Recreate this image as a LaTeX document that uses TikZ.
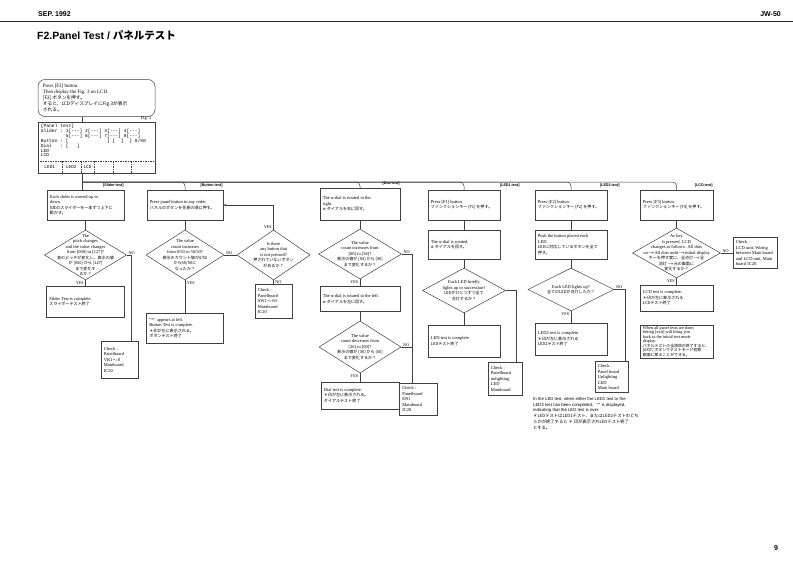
\documentclass[tikz,border=0pt]{standalone}
\usepackage{fontspec}
\setmainfont{Liberation Serif}
\setmonofont{Liberation Mono}
\newfontfamily\hv{Liberation Sans}
\newfontfamily\jp{Noto Sans CJK JP}
\usetikzlibrary{shapes.geometric,calc,arrows.meta}
\newcommand\fs{\fontsize{4.5}{5.5}\selectfont}
\newcommand\J[1]{{\jp\fontsize{4.05}{5.5}\selectfont #1}}
\newcommand\Jn[1]{{\jp\fontsize{4.3}{5.8}\selectfont #1}}
\newcommand\PB[5]{\node[bx,minimum width=#3pt,minimum height=#4pt] (#1) at (#2) {};\node[txt,anchor=west] (#1t) at ([xshift=3pt]#1.west) {#5};}
\newcommand\DM[5]{\node[dm,minimum width=#3pt,minimum height=#4pt] (#1) at (#2) {};\node[dtxt] (#1t) at (#1) {#5};}
\tikzset{
 bx/.style={draw=black!75, line width=0.5pt, inner sep=0pt, fill=white},
 txt/.style={font=\fs, align=left, inner sep=0pt},
 dm/.style={draw=black!75, line width=0.5pt, diamond, inner sep=0pt, fill=white},
 dtxt/.style={font=\fs, align=center, inner sep=0pt},
 ln/.style={draw=black!75, line width=0.5pt},
 lbl/.style={font=\fontsize{4.2}{4.5}\selectfont, inner sep=0.6pt},
 tag/.style={font=\hv\bfseries\fontsize{3.7}{4}\selectfont, inner sep=0.5pt},
 arr/.style={-{Stealth[length=3pt,width=2.4pt]}},
}
\begin{document}
\begin{tikzpicture}[x=1pt,y=-1pt]
\fill[white] (0,0) rectangle (793,560);
\useasboundingbox (0,0) rectangle (793,560);
% header
\node[anchor=west,font=\hv\bfseries\fontsize{7}{8}\selectfont,inner sep=0] (hdate) at (38,14.5) {SEP. 1992};
\node[anchor=east,font=\hv\bfseries\fontsize{7}{8}\selectfont,inner sep=0] (hjw) at (781,14.5) {JW-50};
\draw[line width=1.1pt,black!85] (0,21.5) -- (793,21.5);
\node[anchor=west,font=\hv\bfseries\fontsize{10.5}{12}\selectfont,inner sep=0] (title) at (37,35) {F2.Panel Test / {\jp\bfseries パネルテスト}};
\node[font=\hv\bfseries\fontsize{7}{8}\selectfont,inner sep=0] (pg) at (776,548) {9};
% start
\node[bx,rounded corners=7pt,minimum width=117pt,minimum height=37pt] (st) at (96.5,98) {};
\node[anchor=west,align=left,inner sep=0,font=\fontsize{5}{6.2}\selectfont] (stt) at ([xshift=5pt]st.west) {Press [F2] button.\\Then display the Fig. 3 on LCD.\\{\jp\fontsize{4.7}{6.2}\selectfont [F2] ボタンを押す。}\\{\jp\fontsize{4.7}{6.2}\selectfont すると、LCDディスプレイにFig.3が表示}\\{\jp\fontsize{4.7}{6.2}\selectfont される。}};
% fig 3
\node[bx,minimum width=117pt,minimum height=51pt] (fig) at (96.5,147.5) {};
\node[anchor=south east,font=\fontsize{4.2}{4.5}\selectfont,inner sep=0.8pt] (figl) at ([xshift=-3pt]fig.north east) {Fig. 3};
\node[anchor=north west,align=left,inner sep=0,font=\ttfamily\fontsize{4.6}{4.85}\selectfont] (figt) at ([xshift=3pt,yshift=-2.5pt]fig.north west) {[Panel~test]\\Slider~:~1[{-}{-}{-}]~2[{-}{-}{-}]~3[{-}{-}{-}]~4[{-}{-}{-}]\\~~~~~~~~~5[{-}{-}{-}]~6[{-}{-}{-}]~7[{-}{-}{-}]~8[{-}{-}{-}]\\Button~:~[~~~~~~~~~~~~~~]~[~~]~~]~0/50\\Dial~~~:~[~~~]\\LED\\LCD};
\draw[ln,dashed,dash pattern=on 1.5pt off 1pt] ([yshift=12pt]fig.south west) -- ([yshift=12pt]fig.south east);
\foreach \dx in {24,43,56.5,75,93}{\draw[ln,dashed,dash pattern=on 1.5pt off 1pt] ([xshift=\dx pt,yshift=12pt]fig.south west) -- ([xshift=\dx pt]fig.south west);}
\node[font=\ttfamily\fontsize{4.4}{5}\selectfont,inner sep=0] (fl1) at ([xshift=12pt,yshift=6pt]fig.south west) {LED1};
\node[font=\ttfamily\fontsize{4.4}{5}\selectfont,inner sep=0] (fl2) at ([xshift=33.5pt,yshift=6pt]fig.south west) {LED2};
\node[font=\ttfamily\fontsize{4.4}{5}\selectfont,inner sep=0] (fl3) at ([xshift=49.8pt,yshift=6pt]fig.south west) {LCD};
% trunk and bus
\coordinate (tk) at (82,0);
\coordinate (bus) at (82,182);
% slider
\PB{s1}{85.5,205}{77}{30}{Each slider is moved up or\\down.\\\J{8本のスライダーを一本ずつ上下に}\\\J{動かす。}}
\DM{sd}{85.5,255}{82}{50}{The\\pitch changes\\and the value changes\\from [000] to [127]?\\\J{音のピッチが変化し、表示の値}\\\J{が [000] から [127]}\\\J{まで変化す}\\\J{るか？}}
\PB{s2}{85.5,301.5}{78}{31}{Slider Test is complete.\\\J{スライダーテスト終了}}
\PB{sc}{119.5,359.5}{37}{37}{Check :\\Panelboard\\VR1$\sim$8\\Mainboard\\IC20}
% button
\PB{b1}{185,205}{76}{30}{Press panel button in any order.\\\J{パネルのボタンを任意の順に押す。}}
\DM{bd1}{185,255}{78}{50}{The value\\count increases\\from 0/50 to 50/50?\\\J{表示のカウント値が0/50}\\\J{から50/50に}\\\J{なったか？}}
\DM{bd2}{273.5,255}{73}{50}{Is there\\any button that\\is not pressed?\\\J{押されていないボタン}\\\J{があるか？}}
\PB{bc}{273.5,301}{37}{34}{Check :\\Panelboard\\SW1$\sim$60\\Mainboard\\IC20}
\PB{b2}{185,328}{77}{30}{``*'' appears at left.\\Button Test is complete.\\\J{＊印が左に表示される。}\\\J{ボタンテスト終了}}
% dial
\PB{d1}{360,204}{80}{32}{The α-dial is rotated to the\\right.\\\J{α-ダイアルを右に回す。}}
\DM{dd1}{360,254}{83}{50}{The value\\count increases from\\{[00]} to [36]?\\\J{表示の値が [00] から [36]}\\\J{まで変化するか？}}
\PB{d2}{360,299}{80}{25}{The α-dial is rotated to the left.\\\J{α-ダイアルを左に回す。}}
\DM{dd2}{360,347}{82}{52}{The value\\count decreases from\\{[36]} to [00]?\\\J{表示の値が [36] から [00]}\\\J{まで変化するか？}}
\PB{d3}{360,395.5}{78}{27}{Dial test is complete.\\\J{＊印が左に表示される。}\\\J{ダイアルテスト終了}}
\PB{dc}{418.5,399}{38}{32}{Check :\\Panelboard\\EN1\\Mainboard\\IC20}
\coordinate (dnx) at ([xshift=-6.5pt]dc.north);
% LED1
\PB{l1}{464,205}{72}{30}{Press [F1] button.\\\J{ファンクションキー [F1] を押す。}}
\PB{l2}{464,244.5}{72}{29}{The α-dial is rotated.\\\J{α-ダイアルを回す。}}
\DM{ld}{464,290.5}{83}{45}{Each LED briefly\\lights up in succession?\\\J{LEDがひとつずつ全て}\\\J{点灯するか？}}
\PB{l3}{464,341}{72}{32}{LED test is complete.\\\J{LEDテスト終了}}
\PB{lc}{505,378.5}{34}{33}{Check :\\Panelboard\\unlighting\\LED\\Mainboard}
% LED2
\PB{m1}{571,205}{72}{30}{Press [F2] button.\\\J{ファンクションキー [F2] を押す。}}
\PB{m2}{571,244.5}{72}{29}{Push the button placed each\\LED.\\\J{LEDに対応しているボタンを全て}\\\J{押す。}}
\DM{md}{571,289.5}{86}{43}{Each LED lights up?\\\J{全てのLEDが点灯したか？}}
\PB{m3}{571,339}{72}{32}{LED2 test is complete.\\\J{＊印が左に表示される}\\\J{LED2テスト終了}}
\PB{mc}{611.5,377}{33}{31}{Check :\\Panel board\\Unlighting\\LED\\Main board}
\node[anchor=north west,align=left,inner sep=0,font=\hv\fontsize{4.3}{5.8}\selectfont] (note) at (533,397) {In the LED test, when either the LED1 test or the\\LED2 test has been completed, ``*'' is displayed,\\indicating that the LED test is over.\\\Jn{＊LEDテストはLED1テスト、またはLED2テストのどち}\\\Jn{らかが終了すると ＊ 印が表示されLEDテスト終了}\\\Jn{とする。}};
% LCD
\PB{c1}{676.5,205}{73}{30}{Press [F3] button.\\\J{ファンクションキー [F3] を押す。}}
\DM{cd}{676.5,253}{88}{50}{As key\\is pressed, LCD\\changes as follows. All dots\\on$\to$All dots unlit$\to$initial display\\\J{キーを押す度に、全点灯$\to$全}\\\J{消灯$\to$元の画面に}\\\J{変化するか？}}
\PB{cc}{755,253}{44}{31}{Check :\\LCD unit, Wiring\\between Main board\\and LCD unit, Main\\board IC20}
\PB{c2}{676.5,298}{73}{26}{LCD test is complete.\\\J{＊印が左に表示される}\\\J{LCDテスト終了}}
\node[bx,minimum width=73pt,minimum height=33pt] (c3) at (676.5,341.5) {};
\node[anchor=west,align=left,inner sep=0,font=\fontsize{4.3}{4.55}\selectfont] (c3t) at ([xshift=3pt]c3.west) {When all panel tests are done,\\hitting [exit] will bring you\\back to the initial test mode\\display.\\{\jp\fontsize{3.9}{4.55}\selectfont パネルテストの全項目が終了すると、}\\{\jp\fontsize{3.9}{4.55}\selectfont [EXIT] ボタンでテストモード初期}\\{\jp\fontsize{3.9}{4.55}\selectfont 画面に戻ることができる。}};
% tags
\node[tag,anchor=south east] (tg1) at ([yshift=1.5pt]s1.north east) {[Slider test]};
\node[tag,anchor=south east] (tg2) at ([yshift=1.5pt]b1.north east) {[Button test]};
\node[tag,anchor=south east] (tg3) at ([yshift=1.5pt]d1.north east) {[Dial test]};
\node[tag,anchor=south east] (tg4) at ([xshift=20pt,yshift=1.5pt]l1.north east) {[LED1 test]};
\node[tag,anchor=south east] (tg5) at ([xshift=13pt,yshift=1.5pt]m1.north east) {[LED2 test]};
\node[tag,anchor=south east] (tg6) at ([yshift=1.5pt]c1.north east) {[LCD test]};
% connectors
\draw[ln] (st.south -| tk) -- (fig.north -| tk);
\draw[ln] (fig.south -| tk) -- (s1.north -| tk);
\foreach \n in {b1,d1,l1,m1,c1}{\draw[ln,rounded corners=4pt] (bus) -| (\n.north);}
\draw[ln] (s1) -- (sd);
\draw[ln] (sd) -- (s2);
\draw[ln] (sd.east) -| ([xshift=11.5pt]sc.north);
\draw[ln] (b1) -- (bd1);
\draw[ln] (bd1.east) -- (bd2.west);
\draw[ln] (bd2) -- (bc);
\draw[ln,arr] (bd2.north) |- (b1.east);
\draw[ln] (bd1) -- (b2);
\draw[ln] (d1) -- (dd1);
\draw[ln] (dd1) -- (d2);
\draw[ln] (d2) -- (dd2);
\draw[ln] (dd2) -- (d3);
\draw[ln] (dd1.east) -| (dnx);
\draw[ln] (dd2.east) -- (dd2.east -| dnx);
\draw[ln] (l1) -- (l2);
\draw[ln] (l2) -- (ld);
\draw[ln] (ld) -- (l3);
\draw[ln] (ld.east) -| ([xshift=11pt]lc.north);
\draw[ln] (m1) -- (m2);
\draw[ln] (m2) -- (md);
\draw[ln] (md) -- (m3);
\draw[ln] (md.east) -| ([xshift=13.5pt]mc.north);
\draw[ln] (c1) -- (cd);
\draw[ln] (cd) -- (cc);
\draw[ln] (cd) -- (c2);
% labels
\node[lbl,anchor=south west] (sno) at ([xshift=1pt]sd.east) {NO};
\node[lbl,anchor=east] (syes) at ([xshift=-1pt,yshift=-2.5pt]sd.south) {YES};
\node[lbl,anchor=south west] (bno1) at ([xshift=1pt]bd1.east) {NO};
\node[lbl,anchor=west] (byes1) at ([xshift=1pt,yshift=-2.5pt]bd1.south) {YES};
\node[lbl,anchor=west] (bno2) at ([xshift=1pt,yshift=-1.5pt]bd2.south) {NO};
\node[lbl,anchor=east] (byes2) at ([xshift=-1pt,yshift=2.5pt]bd2.north) {YES};
\node[lbl,anchor=south west] (dno1) at ([xshift=1pt]dd1.east) {NO};
\node[lbl,anchor=east] (dyes1) at ([xshift=-1pt,yshift=-2.5pt]dd1.south) {YES};
\node[lbl,anchor=south west] (dno2) at ([xshift=1pt]dd2.east) {NO};
\node[lbl,anchor=east] (dyes2) at ([xshift=-1pt,yshift=-2.5pt]dd2.south) {YES};
\node[lbl,anchor=south west] (mno) at ([xshift=1pt]md.east) {NO};
\node[lbl,anchor=east] (myes) at ([xshift=-1pt,yshift=-2.5pt]md.south) {YES};
\node[lbl,anchor=south west] (cno) at ([xshift=1pt]cd.east) {NO};
\node[lbl,anchor=east] (cyes) at ([xshift=-1pt,yshift=-2.5pt]cd.south) {YES};
\end{tikzpicture}
\end{document}
